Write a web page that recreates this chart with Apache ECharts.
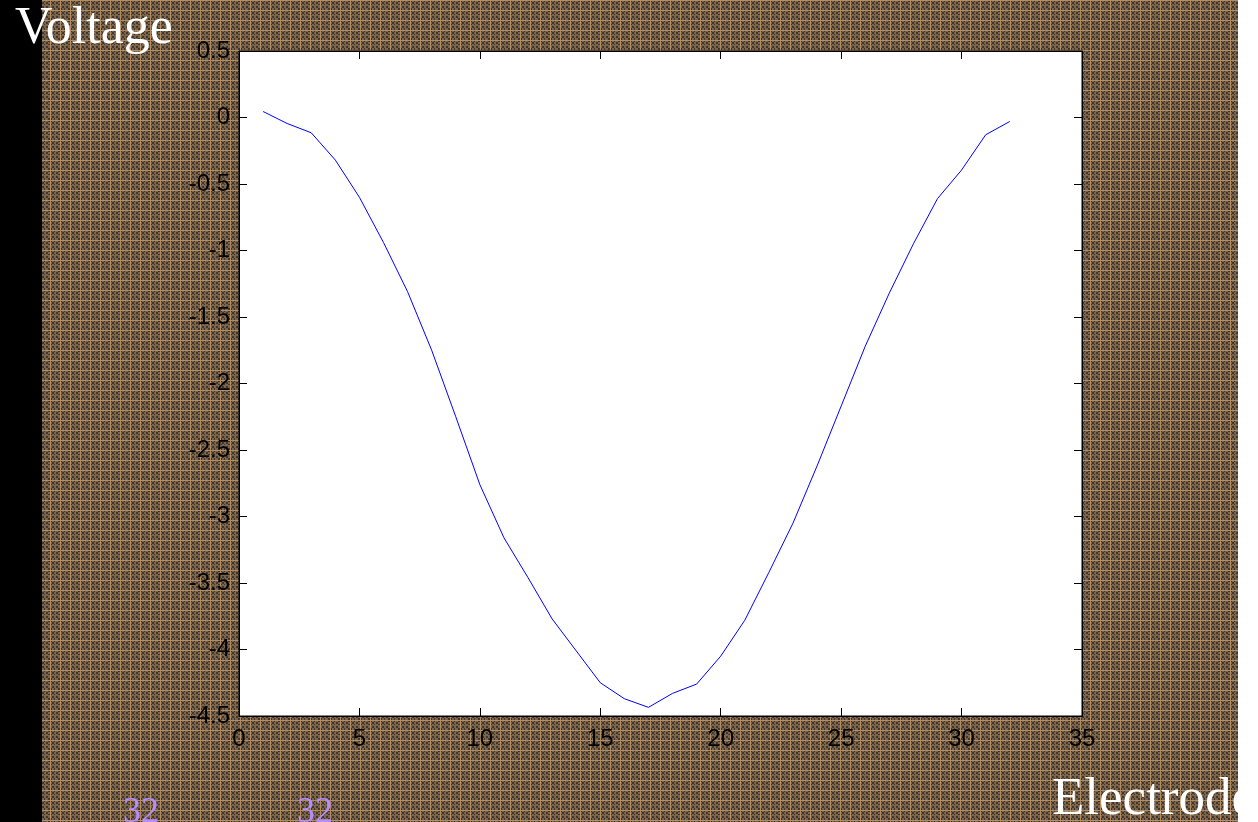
<!DOCTYPE html>
<html>
<head>
<meta charset="utf-8">
<script src="https://cdn.jsdelivr.net/npm/echarts@6/dist/echarts.min.js"></script>
<style>
  html, body { margin: 0; padding: 0; background: #ffffff; }
  #chart { width: 1258px; height: 822px; }
</style>
</head>
<body>
<div id="chart"></div>
<script>
// Electrode index (1..32) and measured voltage at each electrode
const electrodes = [1, 2, 3, 4, 5, 6, 7, 8, 9, 10, 11, 12, 13, 14, 15, 16,
                    17, 18, 19, 20, 21, 22, 23, 24, 25, 26, 27, 28, 29, 30, 31, 32];
const voltages = [0.045, -0.045, -0.115, -0.32, -0.60, -0.94, -1.31, -1.75, -2.25, -2.76, -3.16, -3.46,
                  -3.77, -4.01, -4.25, -4.37, -4.435, -4.33, -4.26, -4.05, -3.78, -3.42, -3.05, -2.62,
                  -2.17, -1.72, -1.32, -0.95, -0.61, -0.395, -0.13, -0.03];

const xTicks = { min: 0, max: 35, step: 5 };
const yTicks = { min: -4.5, max: 0.5, step: 0.5 };

// Woven brown backdrop tile: tan threads on a dark checkered weave
function makeWeave() {
  const c = document.createElement('canvas');
  c.width = 10; c.height = 10;
  const g = c.getContext('2d');
  for (let y = 0; y < 10; y++) {
    for (let x = 0; x < 10; x++) {
      let col;
      if (y === 0 || x === 0) col = '#b48c62';
      else if (y === 5 || x === 5) col = '#7a654d';
      else col = ((Math.floor(x / 2) + Math.floor(y / 2)) % 2 === 0) ? '#42362a' : '#78634c';
      g.fillStyle = col;
      g.fillRect(x, y, 1, 1);
    }
  }
  return c;
}

const chart = echarts.init(document.getElementById('chart'), null, { renderer: 'canvas' });

const tickFont = { color: '#000', fontFamily: 'Liberation Sans, Arial, sans-serif', fontSize: 24 };
const serif = 'Liberation Serif, Times New Roman, serif';

const commonAxis = {
  type: 'value',
  splitLine: { show: false },
  axisLine: { show: true, onZero: false, lineStyle: { color: '#000', width: 1 } },
  axisTick: { show: true, inside: true, length: 8, lineStyle: { color: '#000' } }
};

chart.setOption({
  backgroundColor: { image: makeWeave(), repeat: 'repeat' },
  animation: false,
  grid: {
    left: 239, top: 51, right: 176, bottom: 106,
    show: true, backgroundColor: '#ffffff', borderColor: '#000', borderWidth: 1
  },
  xAxis: [
    Object.assign({}, commonAxis, {
      position: 'bottom', min: xTicks.min, max: xTicks.max, interval: xTicks.step,
      axisLabel: Object.assign({ margin: 11 }, tickFont)
    }),
    Object.assign({}, commonAxis, {
      position: 'top', min: xTicks.min, max: xTicks.max, interval: xTicks.step,
      axisLabel: { show: false }
    })
  ],
  yAxis: [
    Object.assign({}, commonAxis, {
      position: 'left', min: yTicks.min, max: yTicks.max, interval: yTicks.step,
      axisLabel: Object.assign({ margin: 9 }, tickFont)
    }),
    Object.assign({}, commonAxis, {
      position: 'right', min: yTicks.min, max: yTicks.max, interval: yTicks.step,
      axisLabel: { show: false }
    })
  ],
  series: [{
    type: 'line',
    data: electrodes.map((e, i) => [e, voltages[i]]),
    showSymbol: false,
    lineStyle: { color: '#0000ff', width: 1 },
    z: 3
  }],
  graphic: [
    { type: 'rect', left: 0, top: 0, z: 1, shape: { width: 42, height: 822 }, style: { fill: '#000000' } },
    { type: 'text', x: 15, y: 3, z: 5,
      style: { text: 'Voltage', fill: '#ffffff', font: '52px ' + serif } },
    { type: 'text', x: 1052, y: 774, z: 5,
      style: { text: 'Electrode', fill: '#ffffff', font: '53px ' + serif } },
    { type: 'text', x: 123, y: 795, z: 5,
      style: { text: '32', fill: '#b68cff', font: '36px ' + serif } },
    { type: 'text', x: 297, y: 795, z: 5,
      style: { text: '32', fill: '#b68cff', font: '36px ' + serif } },
    { type: 'rect', left: 1238, top: 0, z: 10, shape: { width: 20, height: 822 }, style: { fill: '#ffffff' } }
  ]
});
</script>
</body>
</html>
